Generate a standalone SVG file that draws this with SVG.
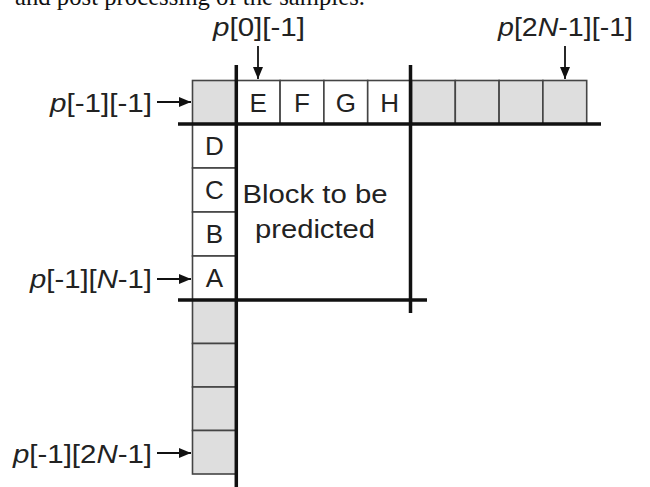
<svg xmlns="http://www.w3.org/2000/svg" width="650" height="487" viewBox="0 0 650 487">
  <style>
    .lbl { font-family: "Liberation Sans", Arial, sans-serif; font-size: 26px; fill: #222; }
    .cell { fill: #fff; stroke: #444; stroke-width: 1.6; }
    .ref { fill: #dedede; stroke: #444; stroke-width: 1.6; }
    .bound { stroke: #111; stroke-width: 3.5; fill: none; }
    .arrow { stroke: #111; stroke-width: 1.8; fill: none; marker-end: url(#head); }
    .cap { font-family: "Liberation Serif", "Times New Roman", serif; font-size: 26px; fill: #111; }
    i, .it { font-style: italic; }
  </style>
  <defs>
    <marker id="head" viewBox="0 0 12 10" refX="12" refY="5" markerWidth="12" markerHeight="10" markerUnits="userSpaceOnUse" orient="auto">
      <path d="M0,0 L12,5 L0,10 Z" fill="#111"/>
    </marker>
  </defs>
  <rect width="650" height="487" fill="#fff"/>

  <!-- caption line cut at the top edge -->
  <text class="cap" x="15" y="5" textLength="350" lengthAdjust="spacingAndGlyphs">and post processing of the samples.</text>

  <!-- top row of reference samples -->
  <g id="top-row">
    <rect class="ref" x="192.5" y="80.5" width="43.8" height="43.5"/>
    <rect class="cell" x="236.3" y="80.5" width="43.8" height="43.5"/>
    <rect class="cell" x="280.1" y="80.5" width="43.8" height="43.5"/>
    <rect class="cell" x="323.9" y="80.5" width="43.8" height="43.5"/>
    <rect class="cell" x="367.7" y="80.5" width="43.8" height="43.5"/>
    <rect class="ref" x="411.5" y="80.5" width="43.8" height="43.5"/>
    <rect class="ref" x="455.3" y="80.5" width="43.8" height="43.5"/>
    <rect class="ref" x="499.1" y="80.5" width="43.8" height="43.5"/>
    <rect class="ref" x="542.9" y="80.5" width="43.8" height="43.5"/>
    <text class="lbl" x="258.2" y="111.5" text-anchor="middle">E</text>
    <text class="lbl" x="302" y="111.5" text-anchor="middle">F</text>
    <text class="lbl" x="345.8" y="111.5" text-anchor="middle">G</text>
    <text class="lbl" x="389.6" y="111.5" text-anchor="middle">H</text>
  </g>

  <!-- left column of reference samples -->
  <g id="left-column">
    <rect class="cell" x="192.5" y="124" width="43.8" height="44"/>
    <rect class="cell" x="192.5" y="168" width="43.8" height="44"/>
    <rect class="cell" x="192.5" y="212" width="43.8" height="44"/>
    <rect class="cell" x="192.5" y="256" width="43.8" height="44"/>
    <rect class="ref" x="192.5" y="300" width="43.8" height="43.5"/>
    <rect class="ref" x="192.5" y="343.5" width="43.8" height="43.5"/>
    <rect class="ref" x="192.5" y="387" width="43.8" height="43.5"/>
    <rect class="ref" x="192.5" y="430.5" width="43.8" height="43.5"/>
    <text class="lbl" x="214.4" y="155" text-anchor="middle">D</text>
    <text class="lbl" x="214.4" y="199" text-anchor="middle">C</text>
    <text class="lbl" x="214.4" y="243" text-anchor="middle">B</text>
    <text class="lbl" x="214.4" y="287" text-anchor="middle">A</text>
  </g>

  <!-- block boundaries -->
  <g id="block">
    <line class="bound" x1="236.3" y1="65" x2="236.3" y2="487"/>
    <line class="bound" x1="410.5" y1="65" x2="410.5" y2="313"/>
    <line class="bound" x1="178" y1="124" x2="601" y2="124"/>
    <line class="bound" x1="178" y1="300" x2="427" y2="300"/>
    <text class="lbl" x="315" y="203" text-anchor="middle" textLength="145" lengthAdjust="spacingAndGlyphs">Block to be</text>
    <text class="lbl" x="315" y="238" text-anchor="middle" textLength="120" lengthAdjust="spacingAndGlyphs">predicted</text>
  </g>

  <!-- sample labels -->
  <g id="label-p0">
    <text class="lbl" x="213" y="36" textLength="92" lengthAdjust="spacingAndGlyphs"><tspan class="it">p</tspan>[0][-1]</text>
  </g>
  <g id="label-p2n">
    <text class="lbl" x="498" y="36" textLength="135" lengthAdjust="spacingAndGlyphs"><tspan class="it">p</tspan>[2<tspan class="it">N</tspan>-1][-1]</text>
  </g>
  <g id="label-corner">
    <text class="lbl" x="50" y="112" textLength="102" lengthAdjust="spacingAndGlyphs"><tspan class="it">p</tspan>[-1][-1]</text>
  </g>
  <g id="label-n">
    <text class="lbl" x="30" y="288" textLength="122" lengthAdjust="spacingAndGlyphs"><tspan class="it">p</tspan>[-1][<tspan class="it">N</tspan>-1]</text>
  </g>
  <g id="label-2n">
    <text class="lbl" x="13" y="463" textLength="139" lengthAdjust="spacingAndGlyphs"><tspan class="it">p</tspan>[-1][2<tspan class="it">N</tspan>-1]</text>
  </g>

  <!-- pointer arrows -->
  <g id="connectors">
    <line class="arrow" x1="258" y1="46" x2="258" y2="79"/>
    <line class="arrow" x1="565" y1="46" x2="565" y2="79"/>
    <line class="arrow" x1="157" y1="102" x2="191" y2="102"/>
    <line class="arrow" x1="157" y1="279" x2="191" y2="279"/>
    <line class="arrow" x1="157" y1="453" x2="191" y2="453"/>
  </g>
</svg>
